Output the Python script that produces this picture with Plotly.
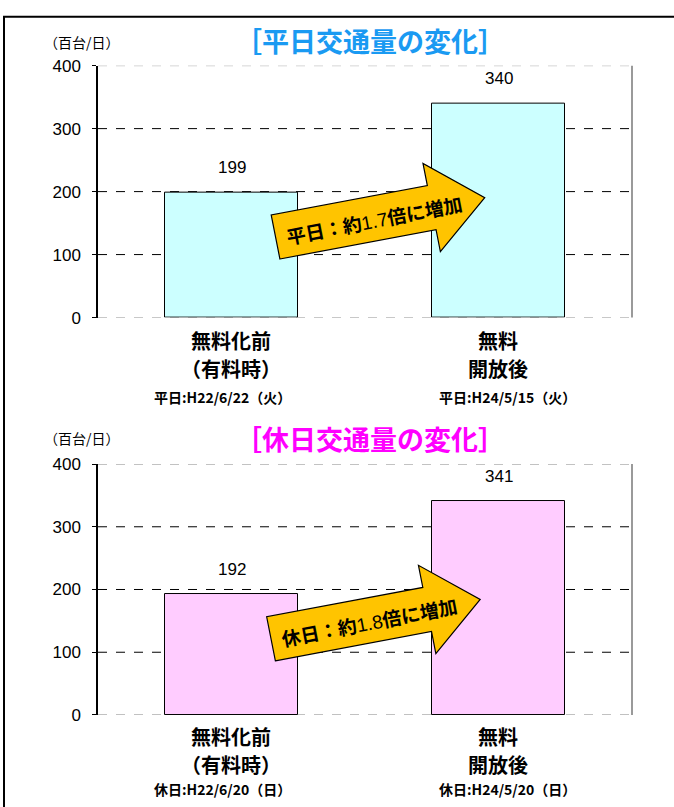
import math
import plotly.graph_objects as go

# ---------------- data ----------------
categories = ["無料化前", "無料開放後"]
weekday_values = [199, 340]
holiday_values = [192, 341]
y_ticks = [0, 100, 200, 300, 400]

weekday_title = "［平日交通量の変化］"
holiday_title = "［休日交通量の変化］"
unit_label = "（百台/日）"
cat_line1 = ["無料化前", "無料"]
cat_line2 = ["（有料時）", "開放後"]
weekday_dates = ["平日:H22/6/22（火）", "平日:H24/5/15（火）"]
holiday_dates = ["休日:H22/6/20（日）", "休日:H24/5/20（日）"]
weekday_arrow = ("平日：約", "1.7", "倍に増加")
holiday_arrow = ("休日：約", "1.8", "倍に増加")

# ---------------- layout constants ----------------
W, H = 674, 807
PX_L, PX_R = 98, 632
TOP_Y0, TOP_Y1 = 58, 316
BOT_Y0, BOT_Y1 = 466, 723
YMAX = 400

JP = "Noto Sans CJK JP"
NUM = "Liberation Sans, Arial"


def py(p):
    return 1 - p / H


fig = go.Figure()

panels = [
    dict(vals=weekday_values, color="#CCFFFF", xa="x", ya="y", y0=TOP_Y0, y1=TOP_Y1,
         title=weekday_title, tcolor="#1A9AF2", dates=weekday_dates, arrow=weekday_arrow,
         anchor=(0.165, 128), title_y=32, unit_y=34, l1=339, l2=368, l3=397),
    dict(vals=holiday_values, color="#FFCCFF", xa="x2", ya="y2", y0=BOT_Y0, y1=BOT_Y1,
         title=holiday_title, tcolor="#FF00FF", dates=holiday_dates, arrow=holiday_arrow,
         anchor=(0.148, 121.4), title_y=440, unit_y=439, l1=745, l2=774, l3=799),
]

annotations = []
shapes = []

# outer frame
shapes.append(dict(type="rect", xref="paper", yref="paper", x0=4 / W, x1=1.02,
                   y0=py(8), y1=-0.02, line=dict(color="black", width=2)))

x_unit_px = (PX_R - PX_L) / 2.0
ang = math.radians(10.9)
arrow_pts = [(0, -23), (159, -23), (159, -46), (213, 0), (159, 46), (159, 23), (0, 23)]


def ann(**kw):
    kw.setdefault("showarrow", False)
    kw.setdefault("xanchor", "center")
    kw.setdefault("yanchor", "middle")
    annotations.append(kw)


for i, p in enumerate(panels):
    xa, ya = p["xa"], p["ya"]
    y_unit_px = (p["y1"] - p["y0"]) / YMAX
    fig.add_trace(go.Bar(
        x=[0, 1], y=p["vals"], width=0.5, marker=dict(color=p["color"], line=dict(color="black", width=1)),
        xaxis=xa, yaxis=ya, hoverinfo="skip", showlegend=False))

    axsuf = "" if i == 0 else "2"
    fig.update_layout(**{
        "xaxis" + axsuf: dict(domain=[PX_L / W, PX_R / W], range=[-0.5, 1.5], showticklabels=False,
                              showgrid=False, zeroline=False, showline=False, anchor=ya, fixedrange=True),
        "yaxis" + axsuf: dict(domain=[py(p["y1"]), py(p["y0"])], range=[0, YMAX], tickvals=y_ticks,
                              showgrid=False, zeroline=False, showline=True, linecolor="black", linewidth=1.5,
                              ticks="outside", ticklen=4, tickcolor="black", ticklabelstandoff=8,
                              tickfont=dict(family=NUM, size=17, color="black"), anchor=xa, fixedrange=True),
    })

    # gridlines
    for v in y_ticks:
        outer = v in (0, YMAX)
        shapes.append(dict(type="line", xref=xa + " domain", yref=ya, x0=0, x1=1, y0=v, y1=v,
                           layer="below", line=dict(color="#8a8a8a" if outer else "black", width=1, dash="dash")))
    # right border
    shapes.append(dict(type="line", xref=xa + " domain", yref=ya + " domain", x0=1, x1=1, y0=0, y1=1,
                       line=dict(color="#9a9a9a", width=2)))

    # value labels
    for xi, v in enumerate(p["vals"]):
        ann(x=xi, y=v, xref=xa, yref=ya, text=str(v), yshift=25,
            font=dict(family=NUM, size=17, color="black"))

    # titles
    ann(x=370 / W, y=py(p["title_y"]), xref="paper", yref="paper", text="<b>" + p["title"] + "</b>",
        font=dict(family=JP, size=27, color=p["tcolor"]))
    ann(x=82 / W, y=py(p["unit_y"]), xref="paper", yref="paper", text=unit_label,
        font=dict(family=JP, size=14, color="black"))

    # category labels
    for xi in range(2):
        ann(x=xi, y=py(p["l1"]), xref=xa, yref="paper", text="<b>" + cat_line1[xi] + "</b>",
            xshift=-1, font=dict(family=JP, size=20, color="black"))
        ann(x=xi, y=py(p["l2"]), xref=xa, yref="paper", text="<b>" + cat_line2[xi] + "</b>",
            xshift=-1, font=dict(family=JP, size=20, color="black"))
        ann(x=xi, y=py(p["l3"]), xref=xa, yref="paper", text="<b>" + p["dates"][xi] + "</b>",
            xshift=(-9 if xi == 0 else 9), font=dict(family=JP, size=14, color="black"))

    # arrow
    ax0, ay0 = p["anchor"]

    def to_data(u, v):
        dx = u * math.cos(ang) - v * math.sin(ang)
        dy = u * math.sin(ang) + v * math.cos(ang)
        return ax0 + dx / x_unit_px, ay0 + dy / y_unit_px

    pts = [to_data(u, v) for u, v in arrow_pts]
    path = "M " + " L ".join(f"{x:.4f},{y:.3f}" for x, y in pts) + " Z"
    shapes.append(dict(type="path", xref=xa, yref=ya, path=path, fillcolor="#FFC400",
                       line=dict(color="black", width=1.2), layer="above"))
    tx, ty = to_data(100, -1)
    a1, a2, a3 = p["arrow"]
    ann(x=tx, y=ty, xref=xa, yref=ya, textangle=-10.9,
        text=f"<b>{a1}</b><span style='font-family:{NUM}'>{a2}</span><b>{a3}</b>",
        font=dict(family=JP, size=19, color="black"))

fig.update_layout(
    width=W, height=H, margin=dict(l=0, r=0, t=0, b=0),
    paper_bgcolor="white", plot_bgcolor="white",
    shapes=shapes, annotations=annotations, bargap=0, showlegend=False,
)

fig.write_html("out.html", config={"displayModeBar": False},
               post_script="document.body.style.margin='0';document.body.style.overflow='hidden';")
